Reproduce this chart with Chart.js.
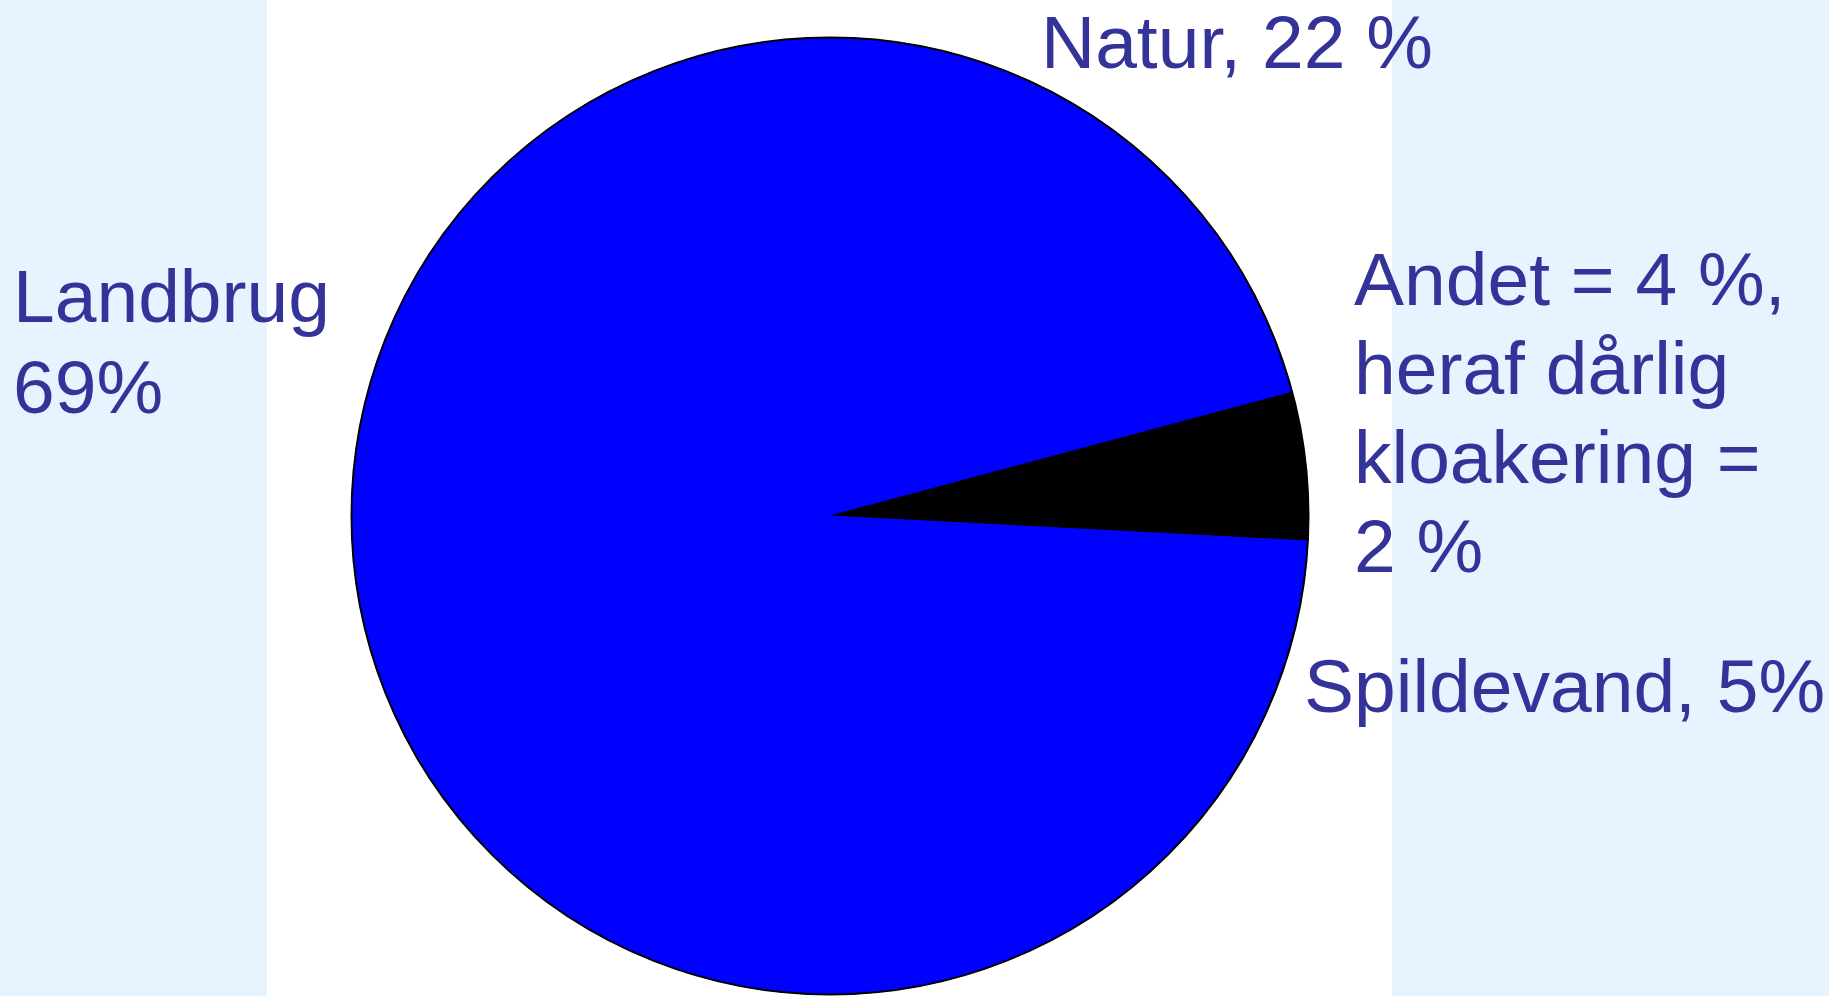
<!DOCTYPE html>
<html>
<head>
<meta charset="utf-8">
<script src="https://cdn.jsdelivr.net/npm/chart.js@4/dist/chart.umd.min.js"></script>
<style>
  html, body { margin: 0; padding: 0; }
  body {
    width: 1829px; height: 996px; overflow: hidden; position: relative;
    background: linear-gradient(to right, #E5F4FE 0px, #E5F4FE 267px, #ffffff 267px, #ffffff 1392px, #E5F4FE 1392px);
    font-family: "Liberation Sans", Arial, sans-serif;
  }
  #wrap { position: absolute; left: 0; top: 0; width: 1829px; height: 996px; }
  .lbl { position: absolute; color: #333399; font-size: 75px; white-space: nowrap; }
</style>
</head>
<body>
<div id="wrap"><canvas id="myChart"></canvas></div>
<div class="lbl" id="lNatur" style="left:1041px; top:-2px; line-height:89px;"></div>
<div class="lbl" id="lAndet" style="left:1354px; top:235px; line-height:89px;"></div>
<div class="lbl" id="lSpild" style="left:1304px; top:642px; line-height:89px;"></div>
<div class="lbl" id="lLand" style="left:13px; top:251px; line-height:91px;"></div>
<script>
var labels = ['Natur', 'Spildevand', 'Andet', 'Landbrug'];
var values = [22, 5, 4, 69];
var colors = ['#0000FF', '#000000', '#0000FF', '#0000FF'];

var natText = ['Natur, 22 %'];
var andetText = ['Andet = 4 %,', 'heraf dårlig', 'kloakering =', '2 %'];
var spildText = ['Spildevand, 5%'];
var landText = ['Landbrug', '69%'];

document.getElementById('lNatur').innerHTML = natText.join('<br>');
document.getElementById('lAndet').innerHTML = andetText.join('<br>');
document.getElementById('lSpild').innerHTML = spildText.join('<br>');
document.getElementById('lLand').innerHTML = landText.join('<br>');

// black ring round the whole pie, no lines between slices
const outline = {
    id: 'outline',
    afterDatasetsDraw(chart) {
        const arc = chart.getDatasetMeta(0).data[0];
        const ctx = chart.ctx;
        ctx.save();
        ctx.beginPath();
        ctx.arc(arc.x, arc.y, arc.outerRadius, 0, Math.PI * 2);
        ctx.lineWidth = 2;
        ctx.strokeStyle = '#000000';
        ctx.stroke();
        ctx.restore();
    }
};

new Chart(document.getElementById('myChart'), {
    type: 'pie',
    data: {
        labels: labels,
        datasets: [{
            data: values,
            backgroundColor: colors,
            borderColor: colors,
            borderWidth: 1
        }]
    },
    options: {
        responsive: true,
        maintainAspectRatio: false,
        animation: false,
        rotation: -4.2,
        layout: { padding: { left: 351, right: 520, top: 37, bottom: 1 } },
        plugins: {
            legend: { display: false },
            tooltip: { enabled: false }
        }
    },
    plugins: [outline]
});
</script>
</body>
</html>
